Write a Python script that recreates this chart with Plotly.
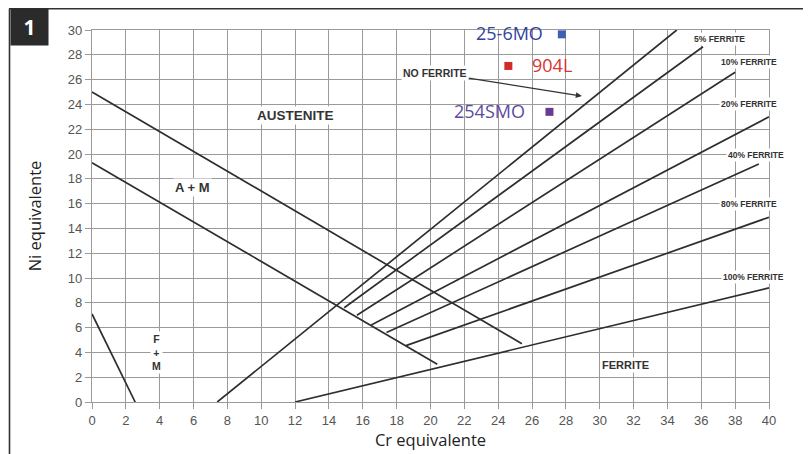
import plotly.graph_objects as go

# ---------------- data ----------------
cr_ticks = list(range(0, 41, 2))
ni_ticks = list(range(0, 31, 2))

# austenite / A+M boundaries
am_upper_cr = [0, 25.4]
am_upper_ni = [25.0, 4.7]
am_lower_cr = [0, 20.4]
am_lower_ni = [19.3, 3.05]
# F+M boundary
fm_cr = [0, 2.55]
fm_ni = [7.1, 0]
# martensite limit line
mart_cr = [7.4, 34.55]
mart_ni = [0, 30.0]
# iso-ferrite lines (0/5/10/20/40/80 %)
ferrite_start_cr = [14.9, 15.65, 16.5, 17.4, 18.55]
ferrite_start_ni = [7.6, 7.0, 6.2, 5.6, 4.55]
ferrite_end_cr = [36.1, 38.0, 40.0, 39.4, 40.0]
ferrite_end_ni = [28.65, 26.6, 23.0, 19.2, 14.9]
# 100 % ferrite line
full_ferrite_cr = [12.0, 40.0]
full_ferrite_ni = [0, 9.2]

# alloys
alloy_names = ["25-6MO", "904L", "254SMO"]
alloy_cr = [27.76, 24.6, 27.03]
alloy_ni = [29.65, 27.1, 23.4]
alloy_marker_colors = ["#3f5fb5", "#d02a2a", "#6a3a8e"]
alloy_text_colors = ["#33439a", "#d93333", "#5c4aa3"]

# ferrite % labels
ferrite_labels = ["5% FERRITE", "10% FERRITE", "20% FERRITE", "40% FERRITE", "80% FERRITE", "100% FERRITE"]
ferrite_label_cr = [37.1, 38.8, 38.8, 39.25, 38.8, 39.1]
ferrite_label_ni = [29.25, 27.4, 24.0, 19.9, 15.95, 10.05]

# ---------------- figure ----------------
LINE = dict(color="#2e2e2e", width=1.7)
fig = go.Figure()

def seg(xs, ys):
    fig.add_trace(go.Scatter(x=xs, y=ys, mode="lines", line=LINE,
                             hoverinfo="skip", showlegend=False))

seg(am_upper_cr, am_upper_ni)
seg(am_lower_cr, am_lower_ni)
seg(fm_cr, fm_ni)
seg(mart_cr, mart_ni)
for i in range(len(ferrite_start_cr)):
    seg([ferrite_start_cr[i], ferrite_end_cr[i]], [ferrite_start_ni[i], ferrite_end_ni[i]])
seg(full_ferrite_cr, full_ferrite_ni)

fig.add_trace(go.Scatter(x=alloy_cr, y=alloy_ni, mode="markers",
                         marker=dict(symbol="square", size=8, color=alloy_marker_colors),
                         showlegend=False, hoverinfo="skip"))

ann = []
BOLD = dict(family="Liberation Sans, Arial", color="#333333")

def lab(x, y, text, size, **kw):
    d = dict(x=x, y=y, xref="x", yref="y", text=text, showarrow=False,
             font=dict(size=size, **BOLD), bgcolor="white", borderpad=1)
    d.update(kw)
    ann.append(d)

lab(12.0, 23.1, "<b>AUSTENITE</b>", 13.5)
lab(5.96, 17.27, "<b>A + M</b>", 13)
lab(3.8, 4.03, "<b>F<br>+<br>M</b>", 10.5)
lab(31.54, 2.96, "<b>FERRITE</b>", 11)
for t, xx, yy in zip(ferrite_labels, ferrite_label_cr, ferrite_label_ni):
    lab(xx, yy, "<b>" + t + "</b>", 8.5)

# NO FERRITE with arrow
ann.append(dict(x=28.94, y=24.67, xref="x", yref="y", ax=20.28, ay=26.55,
                axref="x", ayref="y", text="<b>NO FERRITE</b>", showarrow=True,
                arrowhead=2, arrowsize=1, arrowwidth=1.2, arrowcolor="#333333",
                font=dict(size=10.5, **BOLD), bgcolor="white", borderpad=1))

# alloy labels
shifts = [(-17, "right"), (22, "left"), (-22, "right")]
for name, xx, yy, c, (sh, anc) in zip(alloy_names, alloy_cr, alloy_ni, alloy_text_colors, shifts):
    ann.append(dict(x=xx, y=yy, xref="x", yref="y", text=name, showarrow=False,
                    xanchor=anc, xshift=sh, yshift=1,
                    font=dict(family="Open Sans", size=18, color=c)))

# screen pixel -> paper coordinates (plot area is 92..769 x 30..402 on screen)
def px(p):
    return (p - 92) / 677.0

def py(p):
    return (402 - p) / 372.0

# panel number badge
ann.append(dict(x=px(10), y=py(8.5), xref="paper", yref="paper", xanchor="left", yanchor="top",
                text="<b>1</b>", showarrow=False, width=37, height=36, align="center",
                valign="middle", bgcolor="#2b2b2b", borderpad=0,
                font=dict(family="Open Sans", size=21, color="white")))

shapes = [
    dict(type="line", xref="paper", yref="paper", x0=px(9), x1=px(811), y0=py(8.8), y1=py(8.8),
         line=dict(color="#333333", width=1.6)),
    dict(type="line", xref="paper", yref="paper", x0=px(9.5), x1=px(9.5), y0=py(8.8), y1=py(454),
         line=dict(color="#333333", width=1.6)),
]

GRID = "#9a9a9a"
fig.update_layout(
    width=803, height=446,
    margin=dict(l=84, r=42, t=22, b=52, autoexpand=False),
    paper_bgcolor="white", plot_bgcolor="white",
    annotations=ann, shapes=shapes,
    xaxis=dict(range=[0, 40], tickvals=cr_ticks, showgrid=True, gridcolor=GRID, gridwidth=1.3,
               zeroline=False, showline=True, linecolor=GRID, linewidth=1.3, mirror=True,
               ticks="outside", ticklen=6, tickcolor=GRID, tickwidth=1.3, automargin=False,
               tickfont=dict(family="Liberation Sans, Arial", size=13, color="#555555"),
               title=dict(text="Cr equivalente", standoff=6,
                          font=dict(family="Open Sans", size=16.5, color="#222222"))),
    yaxis=dict(range=[0, 30], tickvals=ni_ticks, showgrid=True, gridcolor=GRID, gridwidth=1.3,
               zeroline=False, showline=True, linecolor=GRID, linewidth=1.3, mirror=True,
               ticks="outside", ticklen=6, tickcolor=GRID, tickwidth=1.3, automargin=False,
               tickfont=dict(family="Liberation Sans, Arial", size=13, color="#555555"),
               title=dict(text="Ni equivalente", standoff=22,
                          font=dict(family="Open Sans", size=16.5, color="#222222"))),
)

fig.write_html("out.html")
